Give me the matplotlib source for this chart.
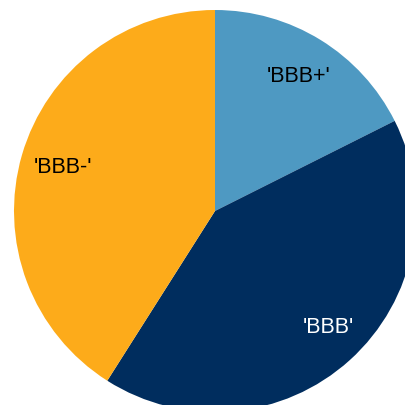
import matplotlib
matplotlib.use("Agg")
import matplotlib.pyplot as plt

plt.rcParams["font.family"] = ["Liberation Sans", "DejaVu Sans"]

labels = ["'BBB+'", "'BBB'", "'BBB-'"]
values = [17.6, 41.4, 41.0]
colors = ["#4e99c2", "#002d5e", "#fdab1a"]
text_colors = ["black", "white", "black"]

fig = plt.figure(figsize=(4.05, 4.06), dpi=100)
ax = fig.add_axes([0, 0, 1, 1])
wedges, texts = ax.pie(values, labels=labels, colors=colors, startangle=90,
                       counterclock=False, labeldistance=0.79,
                       textprops=dict(fontsize=15.5))
for t, c in zip(texts, text_colors):
    t.set_color(c)
    t.set_ha("center")
    t.set_va("center")
# small nudge of the 'BBB' label as in the reference
x, y = texts[1].get_position()
texts[1].set_position((x + 0.035, y + 0.01))
ax.set_aspect("auto")
r = 201.0
ax.set_xlim(-215 / r, (405 - 215) / r)
ax.set_ylim(-(406 - 212) / r, 212 / r)
ax.axis("off")
fig.savefig("out.png", dpi=100)
